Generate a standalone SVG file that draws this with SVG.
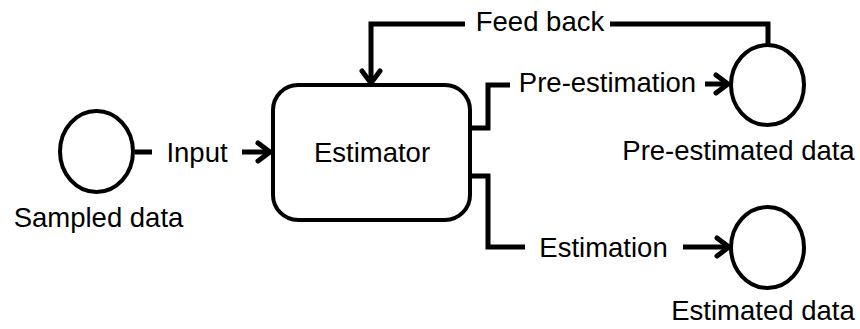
<svg xmlns="http://www.w3.org/2000/svg" width="860" height="329" viewBox="0 0 860 329">
  <style>
    .node { fill: #ffffff; stroke: #000000; stroke-width: 4; }
    .wire { fill: none; stroke: #000000; stroke-width: 5; stroke-linejoin: miter; stroke-linecap: butt; }
    .label { font-family: "Liberation Sans", Arial, sans-serif; font-size: 27.5px; fill: #000000; text-anchor: middle; }
  </style>
  <defs>
    <marker id="arrow" markerUnits="userSpaceOnUse" markerWidth="30" markerHeight="30" viewBox="-20 -15 30 30" refX="0" refY="0" orient="auto">
      <path d="M-12,-9 L0,0 L-12,9" fill="none" stroke="#000000" stroke-width="5" stroke-linecap="round" stroke-linejoin="round"/>
    </marker>
  </defs>

  <!-- connectors -->
  <g id="connectors">
    <line class="wire" x1="135" y1="152" x2="152" y2="152"/>
    <line class="wire" x1="242" y1="152" x2="270" y2="152" marker-end="url(#arrow)"/>
    <path class="wire" d="M465,24 H371 V83" marker-end="url(#arrow)"/>
    <path class="wire" d="M610,24 H768 V45"/>
    <path class="wire" d="M470,128 H488 V85 H510"/>
    <line class="wire" x1="705" y1="84" x2="728" y2="84" marker-end="url(#arrow)"/>
    <path class="wire" d="M470,176 H488 V247 H525"/>
    <line class="wire" x1="683" y1="247" x2="729" y2="247" marker-end="url(#arrow)"/>
  </g>

  <!-- edge labels -->
  <text class="label" x="197" y="162">Input</text>
  <text class="label" x="540" y="31">Feed back</text>
  <text class="label" x="607.5" y="92">Pre-estimation</text>
  <text class="label" x="603.5" y="257">Estimation</text>

  <g id="sampled-data">
    <ellipse class="node" cx="96.5" cy="151.5" rx="36.5" ry="40.5"/>
    <text class="label" x="98.5" y="227">Sampled data</text>
  </g>

  <g id="estimator">
    <rect class="node" x="273" y="85" width="197" height="135" rx="25" ry="25"/>
    <text class="label" x="372" y="162">Estimator</text>
  </g>

  <g id="pre-estimated-data">
    <ellipse class="node" cx="767.5" cy="85" rx="36.5" ry="40"/>
    <text class="label" x="738.5" y="160">Pre-estimated data</text>
  </g>

  <g id="estimated-data">
    <ellipse class="node" cx="767.5" cy="247.5" rx="36.5" ry="40.5"/>
    <text class="label" x="763" y="320">Estimated data</text>
  </g>
</svg>
